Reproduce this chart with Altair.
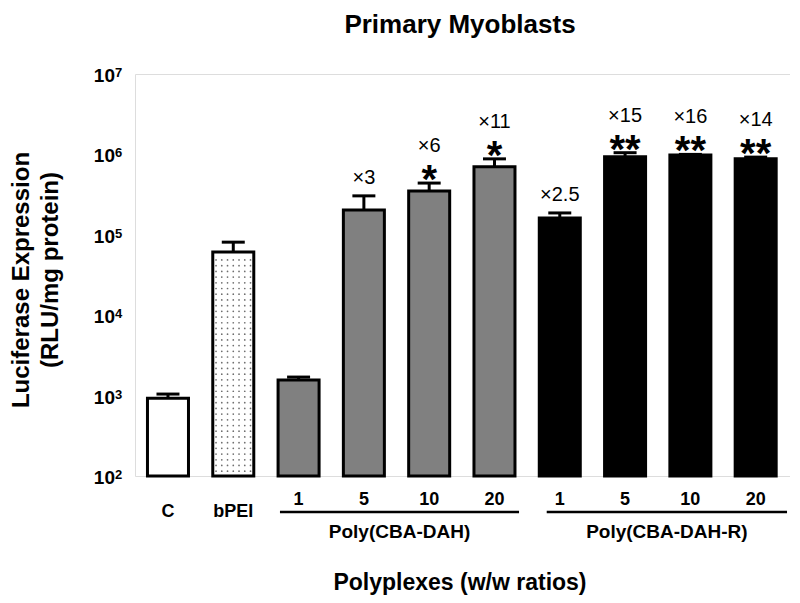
import altair as alt
import numpy as np
import pandas as pd

# ---------------- data ----------------
categories = ["C", "bPEI", "1", "5", "10", "20", "1", "5", "10", "20"]
series = ["Control", "bPEI",
          "Poly(CBA-DAH)", "Poly(CBA-DAH)", "Poly(CBA-DAH)", "Poly(CBA-DAH)",
          "Poly(CBA-DAH-R)", "Poly(CBA-DAH-R)", "Poly(CBA-DAH-R)", "Poly(CBA-DAH-R)"]
mean_rlu = [930, 61000, 1560, 204000, 351000, 700000, 162000, 935000, 980000, 880000]
upper_err = [1045, 81000, 1700, 305000, 440000, 880000, 187000, 1050000, 1000000, 925000]
fold_labels = ["", "", "", "×3", "×6", "×11", "×2.5", "×15", "×16", "×14"]
star_labels = ["", "", "", "", "*", "*", "", "**", "**", "**"]
fill_colors = ["white", "white", "#808080", "#808080", "#808080", "#808080",
               "black", "black", "black", "black"]
group_names = ["Poly(CBA-DAH)", "Poly(CBA-DAH-R)"]
y_tick_values = [1e2, 1e3, 1e4, 1e5, 1e6, 1e7]
y_tick_exponents = ["2", "3", "4", "5", "6", "7"]

title_text = "Primary Myoblasts"
x_title = "Polyplexes (w/w ratios)"
y_title = ["Luciferase Expression", "(RLU/mg protein)"]

# ---------------- layout constants ----------------
W, H = 655, 402
FONT = "Liberation Sans"
HALF_BAR = 0.314
HALF_CAP = 0.176

n = len(categories)
df = pd.DataFrame({
    "idx": list(range(n)),
    "cat": categories,
    "series": series,
    "mean": mean_rlu,
    "err": upper_err,
    "fold": fold_labels,
    "star": star_labels,
    "fill": fill_colors,
})
df["x0"] = df["idx"] - HALF_BAR
df["x1"] = df["idx"] + HALF_BAR
df["c0"] = df["idx"] - HALF_CAP
df["c1"] = df["idx"] + HALF_CAP
df["base"] = 100
df["is_num"] = df["cat"].str.isnumeric()

# group underline spans (layout, in bar-index units)
grp = pd.DataFrame({"name": group_names, "start": [1.715, 5.80], "end": [5.376, 9.48]})
grp["mid"] = (grp["start"] + grp["end"]) / 2

ticks = pd.DataFrame({"v": y_tick_values, "e": y_tick_exponents, "b": ["10"] * len(y_tick_values)})

# dotted texture for the bPEI bar
bpei = df[df["cat"] == "bPEI"].iloc[0]
tex_cols = bpei["idx"] + np.arange(-3, 4) * 0.088
tex_rows = 10 ** np.arange(2.06, np.log10(bpei["mean"]) - 0.03, 0.071)
tex = pd.DataFrame([(c, r) for c in tex_cols for r in tex_rows], columns=["tx", "ty"])

xs = alt.Scale(domain=[-0.505, -0.505 + W / 65.3], nice=False, zero=False)
ys = alt.Scale(type="log", domain=[100, 1e7], nice=False)

x_axis = alt.Axis(labels=False, ticks=False, grid=False, title=None,
                  domainWidth=3, domainColor="black")
y_axis = alt.Axis(values=y_tick_values, labels=False, grid=False, title=None,
                  tickSize=8, tickWidth=3, tickColor="black",
                  domainWidth=3, domainColor="black")

base = alt.Chart(df)

bars = base.mark_bar(stroke="black", strokeWidth=3, strokeJoin="miter").encode(
    x=alt.X("x0:Q", scale=xs, axis=x_axis),
    x2="x1:Q",
    y=alt.Y("mean:Q", scale=ys, axis=y_axis),
    y2="base:Q",
    fill=alt.Fill("fill:N", scale=None),
)

dots = alt.Chart(tex).mark_circle(size=3, color="#6f6f6f", opacity=1).encode(
    x=alt.X("tx:Q", scale=xs, axis=None),
    y=alt.Y("ty:Q", scale=ys, axis=None),
)

stems = base.mark_rule(strokeWidth=3, color="black").encode(
    x=alt.X("idx:Q", scale=xs, axis=None),
    y=alt.Y("mean:Q", scale=ys, axis=None),
    y2="err:Q",
)

caps = base.mark_rule(strokeWidth=3, color="black").encode(
    x=alt.X("c0:Q", scale=xs, axis=None),
    x2="c1:Q",
    y=alt.Y("err:Q", scale=ys, axis=None),
)

fold_plain = base.transform_filter("datum.fold != '' && datum.star == ''").mark_text(
    font=FONT, fontSize=20, color="black", baseline="alphabetic", align="center", dy=-12
).encode(x=alt.X("idx:Q", scale=xs, axis=None), y=alt.Y("err:Q", scale=ys, axis=None), text="fold:N")

fold_star = base.transform_filter("datum.fold != '' && datum.star != ''").mark_text(
    font=FONT, fontSize=20, color="black", baseline="alphabetic", align="center", dy=-31
).encode(x=alt.X("idx:Q", scale=xs, axis=None), y=alt.Y("err:Q", scale=ys, axis=None), text="fold:N")

stars = base.transform_filter("datum.star != ''").mark_text(
    font=FONT, fontSize=40, fontWeight="bold", color="black", baseline="alphabetic",
    align="center", dy=10
).encode(x=alt.X("idx:Q", scale=xs, axis=None), y=alt.Y("err:Q", scale=ys, axis=None), text="star:N")

num_labels = base.transform_filter("datum.is_num").mark_text(
    font=FONT, fontSize=18, fontWeight="bold", color="black", baseline="alphabetic", align="center"
).encode(x=alt.X("idx:Q", scale=xs, axis=None), y=alt.value(H + 29), text="cat:N")

other_labels = base.transform_filter("!datum.is_num").mark_text(
    font=FONT, fontSize=18, fontWeight="bold", color="black", baseline="alphabetic", align="center"
).encode(x=alt.X("idx:Q", scale=xs, axis=None), y=alt.value(H + 41), text="cat:N")

underlines = alt.Chart(grp).mark_rule(strokeWidth=2.5, color="black").encode(
    x=alt.X("start:Q", scale=xs, axis=None), x2="end:Q", y=alt.value(H + 36)
)

group_text = alt.Chart(grp).mark_text(
    font=FONT, fontSize=19, fontWeight="bold", color="black", baseline="alphabetic", align="center"
).encode(x=alt.X("mid:Q", scale=xs, axis=None), y=alt.value(H + 62), text="name:N")

tick_base = alt.Chart(ticks).mark_text(
    font=FONT, fontSize=19, fontWeight="bold", color="black", baseline="alphabetic",
    align="right", dy=8
).encode(x=alt.value(-20), y=alt.Y("v:Q", scale=ys, axis=None), text="b:N")

tick_exp = alt.Chart(ticks).mark_text(
    font=FONT, fontSize=13, fontWeight="bold", color="black", baseline="alphabetic",
    align="left", dy=3
).encode(x=alt.value(-20), y=alt.Y("v:Q", scale=ys, axis=None), text="e:N")

title = alt.Chart(pd.DataFrame({"t": [title_text]})).mark_text(
    font=FONT, fontSize=26, fontWeight="bold", color="black", baseline="alphabetic", align="center"
).encode(x=alt.value(325), y=alt.value(-41), text="t:N")

xtitle = alt.Chart(pd.DataFrame({"t": [x_title]})).mark_text(
    font=FONT, fontSize=23, fontWeight="bold", color="black", baseline="alphabetic", align="center"
).encode(x=alt.value(325), y=alt.value(H + 114), text="t:N")

ytitle1 = alt.Chart(pd.DataFrame({"t": [y_title[0]]})).mark_text(
    font=FONT, fontSize=24, fontWeight="bold", color="black", baseline="middle", align="center",
    angle=270
).encode(x=alt.value(-113), y=alt.value(206), text="t:N")

ytitle2 = alt.Chart(pd.DataFrame({"t": [y_title[1]]})).mark_text(
    font=FONT, fontSize=24, fontWeight="bold", color="black", baseline="middle", align="center",
    angle=270
).encode(x=alt.value(-84), y=alt.value(196), text="t:N")

chart = alt.layer(
    bars, dots, stems, caps, fold_plain, fold_star, stars,
    num_labels, other_labels, underlines, group_text, tick_base, tick_exp,
    title, xtitle, ytitle1, ytitle2
).properties(
    width=W, height=H,
    padding={"left": 127, "top": 66, "right": 0, "bottom": 125},
    autosize=alt.AutoSizeParams(type="none"),
).configure_view(stroke=None).configure(background="white")

chart.save("out.html", embed_options={"renderer": "svg", "actions": False})
